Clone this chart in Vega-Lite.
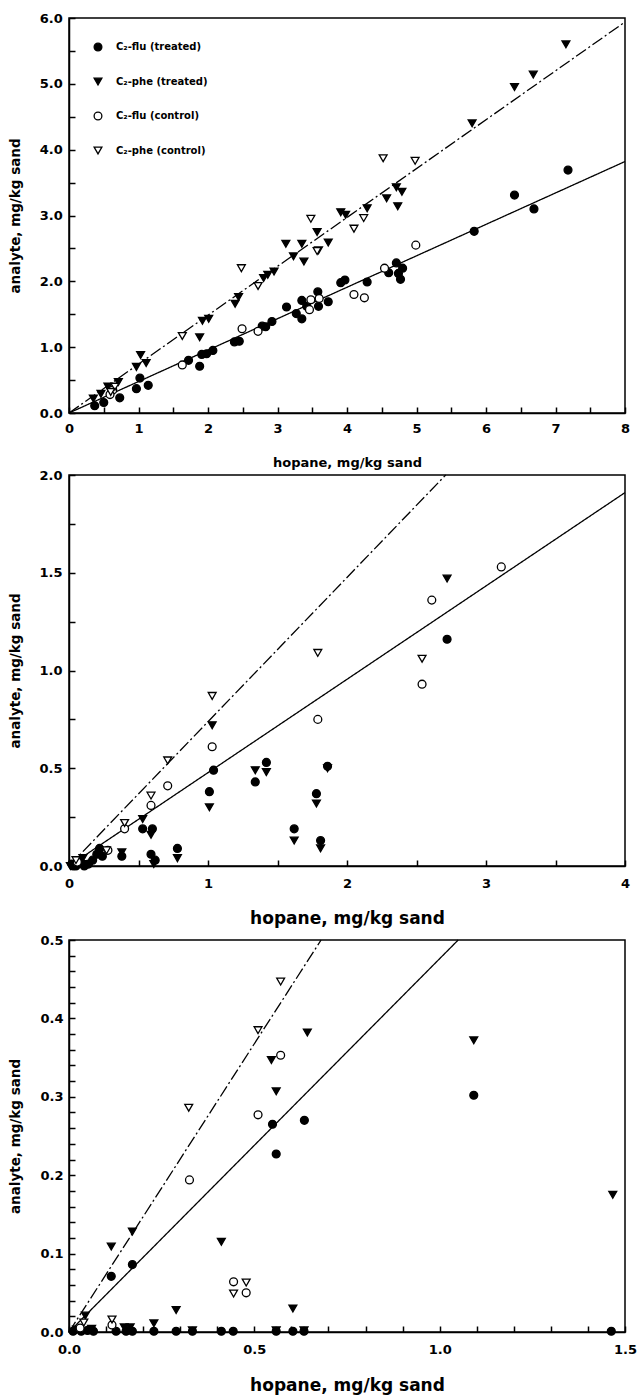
{
  "$schema": "https://vega.github.io/schema/vega-lite/v6.json",
  "background": "white",
  "padding": {"left": 7, "top": 11, "right": 8, "bottom": 0},
  "config": {
    "font": "DejaVu Sans",
    "view": {"stroke": "black", "strokeWidth": 1.5},
    "axis": {
      "grid": false, "domainColor": "black", "domainWidth": 1.5,
      "tickColor": "black", "tickWidth": 1.5, "tickSize": -6, "ticks": true,
      "labelColor": "black", "titleColor": "black",
      "labelFont": "DejaVu Sans", "labelFontWeight": "bold",
      "titleFont": "DejaVu Sans", "titleFontWeight": "bold",
      "labelFlush": false, "labelOverlap": false, "labelBound": false,
      "titleAlign": "center", "titleBaseline": "middle"
    }
  },
  "datasets": {
    "fitA": [
      {"fit": "flu", "hopane": 0, "analyte": 0}, {"fit": "flu", "hopane": 8, "analyte": 3.82},
      {"fit": "phe", "hopane": 0, "analyte": 0}, {"fit": "phe", "hopane": 8, "analyte": 5.94}
    ],
    "fitB": [
      {"fit": "flu", "hopane": 0, "analyte": 0}, {"fit": "flu", "hopane": 4, "analyte": 1.91},
      {"fit": "phe", "hopane": 0, "analyte": 0}, {"fit": "phe", "hopane": 2.71, "analyte": 2.0}
    ],
    "fitC": [
      {"fit": "flu", "hopane": 0, "analyte": 0}, {"fit": "flu", "hopane": 1.05, "analyte": 0.5},
      {"fit": "phe", "hopane": 0, "analyte": 0}, {"fit": "phe", "hopane": 0.68, "analyte": 0.5}
    ],
    "a": [
      {"series": "C₂-flu (treated)", "hopane": 7.18, "analyte": 3.69},
      {"series": "C₂-flu (treated)", "hopane": 6.41, "analyte": 3.31},
      {"series": "C₂-flu (treated)", "hopane": 6.69, "analyte": 3.10},
      {"series": "C₂-flu (treated)", "hopane": 5.83, "analyte": 2.76},
      {"series": "C₂-flu (treated)", "hopane": 4.74, "analyte": 2.12},
      {"series": "C₂-flu (treated)", "hopane": 4.60, "analyte": 2.13},
      {"series": "C₂-flu (treated)", "hopane": 4.77, "analyte": 2.03},
      {"series": "C₂-flu (treated)", "hopane": 4.71, "analyte": 2.28},
      {"series": "C₂-flu (treated)", "hopane": 4.80, "analyte": 2.20},
      {"series": "C₂-flu (treated)", "hopane": 4.29, "analyte": 1.99},
      {"series": "C₂-flu (treated)", "hopane": 3.91, "analyte": 1.98},
      {"series": "C₂-flu (treated)", "hopane": 3.97, "analyte": 2.02},
      {"series": "C₂-flu (treated)", "hopane": 3.73, "analyte": 1.69},
      {"series": "C₂-flu (treated)", "hopane": 3.58, "analyte": 1.84},
      {"series": "C₂-flu (treated)", "hopane": 3.59, "analyte": 1.62},
      {"series": "C₂-flu (treated)", "hopane": 3.35, "analyte": 1.71},
      {"series": "C₂-flu (treated)", "hopane": 3.35, "analyte": 1.43},
      {"series": "C₂-flu (treated)", "hopane": 3.27, "analyte": 1.51},
      {"series": "C₂-flu (treated)", "hopane": 3.13, "analyte": 1.61},
      {"series": "C₂-flu (treated)", "hopane": 3.42, "analyte": 1.62},
      {"series": "C₂-flu (treated)", "hopane": 2.92, "analyte": 1.39},
      {"series": "C₂-flu (treated)", "hopane": 2.83, "analyte": 1.31},
      {"series": "C₂-flu (treated)", "hopane": 2.78, "analyte": 1.32},
      {"series": "C₂-flu (treated)", "hopane": 2.45, "analyte": 1.09},
      {"series": "C₂-flu (treated)", "hopane": 2.38, "analyte": 1.08},
      {"series": "C₂-flu (treated)", "hopane": 2.07, "analyte": 0.95},
      {"series": "C₂-flu (treated)", "hopane": 1.98, "analyte": 0.90},
      {"series": "C₂-flu (treated)", "hopane": 1.91, "analyte": 0.89},
      {"series": "C₂-flu (treated)", "hopane": 1.88, "analyte": 0.71},
      {"series": "C₂-flu (treated)", "hopane": 1.72, "analyte": 0.80},
      {"series": "C₂-flu (treated)", "hopane": 1.02, "analyte": 0.53},
      {"series": "C₂-flu (treated)", "hopane": 1.14, "analyte": 0.42},
      {"series": "C₂-flu (treated)", "hopane": 0.97, "analyte": 0.37},
      {"series": "C₂-flu (treated)", "hopane": 0.73, "analyte": 0.23},
      {"series": "C₂-flu (treated)", "hopane": 0.50, "analyte": 0.16},
      {"series": "C₂-flu (treated)", "hopane": 0.37, "analyte": 0.11},
      {"series": "C₂-phe (treated)", "hopane": 7.15, "analyte": 5.60},
      {"series": "C₂-phe (treated)", "hopane": 6.68, "analyte": 5.14},
      {"series": "C₂-phe (treated)", "hopane": 6.41, "analyte": 4.95},
      {"series": "C₂-phe (treated)", "hopane": 5.80, "analyte": 4.40},
      {"series": "C₂-phe (treated)", "hopane": 4.57, "analyte": 3.26},
      {"series": "C₂-phe (treated)", "hopane": 4.71, "analyte": 3.43},
      {"series": "C₂-phe (treated)", "hopane": 4.79, "analyte": 3.36},
      {"series": "C₂-phe (treated)", "hopane": 4.73, "analyte": 3.14},
      {"series": "C₂-phe (treated)", "hopane": 3.91, "analyte": 3.05},
      {"series": "C₂-phe (treated)", "hopane": 3.98, "analyte": 3.01},
      {"series": "C₂-phe (treated)", "hopane": 4.29, "analyte": 3.11},
      {"series": "C₂-phe (treated)", "hopane": 3.12, "analyte": 2.57},
      {"series": "C₂-phe (treated)", "hopane": 3.35, "analyte": 2.57},
      {"series": "C₂-phe (treated)", "hopane": 3.38, "analyte": 2.30},
      {"series": "C₂-phe (treated)", "hopane": 3.23, "analyte": 2.38},
      {"series": "C₂-phe (treated)", "hopane": 3.57, "analyte": 2.75},
      {"series": "C₂-phe (treated)", "hopane": 3.73, "analyte": 2.59},
      {"series": "C₂-phe (treated)", "hopane": 3.59, "analyte": 2.47},
      {"series": "C₂-phe (treated)", "hopane": 2.95, "analyte": 2.15},
      {"series": "C₂-phe (treated)", "hopane": 2.86, "analyte": 2.10},
      {"series": "C₂-phe (treated)", "hopane": 2.80, "analyte": 2.05},
      {"series": "C₂-phe (treated)", "hopane": 2.44, "analyte": 1.76},
      {"series": "C₂-phe (treated)", "hopane": 2.39, "analyte": 1.66},
      {"series": "C₂-phe (treated)", "hopane": 1.92, "analyte": 1.40},
      {"series": "C₂-phe (treated)", "hopane": 2.01, "analyte": 1.43},
      {"series": "C₂-phe (treated)", "hopane": 1.88, "analyte": 1.15},
      {"series": "C₂-phe (treated)", "hopane": 1.03, "analyte": 0.88},
      {"series": "C₂-phe (treated)", "hopane": 0.97, "analyte": 0.70},
      {"series": "C₂-phe (treated)", "hopane": 1.11, "analyte": 0.76},
      {"series": "C₂-phe (treated)", "hopane": 0.71, "analyte": 0.47},
      {"series": "C₂-phe (treated)", "hopane": 0.56, "analyte": 0.40},
      {"series": "C₂-phe (treated)", "hopane": 0.46, "analyte": 0.29},
      {"series": "C₂-phe (treated)", "hopane": 0.35, "analyte": 0.22},
      {"series": "C₂-flu (control)", "hopane": 4.99, "analyte": 2.55},
      {"series": "C₂-flu (control)", "hopane": 4.54, "analyte": 2.20},
      {"series": "C₂-flu (control)", "hopane": 4.10, "analyte": 1.80},
      {"series": "C₂-flu (control)", "hopane": 4.25, "analyte": 1.75},
      {"series": "C₂-flu (control)", "hopane": 3.48, "analyte": 1.72},
      {"series": "C₂-flu (control)", "hopane": 3.46, "analyte": 1.57},
      {"series": "C₂-flu (control)", "hopane": 3.60, "analyte": 1.74},
      {"series": "C₂-flu (control)", "hopane": 2.49, "analyte": 1.28},
      {"series": "C₂-flu (control)", "hopane": 2.72, "analyte": 1.24},
      {"series": "C₂-flu (control)", "hopane": 1.63, "analyte": 0.73},
      {"series": "C₂-flu (control)", "hopane": 0.63, "analyte": 0.35},
      {"series": "C₂-flu (control)", "hopane": 0.59, "analyte": 0.28},
      {"series": "C₂-phe (control)", "hopane": 4.52, "analyte": 3.87},
      {"series": "C₂-phe (control)", "hopane": 4.98, "analyte": 3.83},
      {"series": "C₂-phe (control)", "hopane": 4.24, "analyte": 2.96},
      {"series": "C₂-phe (control)", "hopane": 3.48, "analyte": 2.95},
      {"series": "C₂-phe (control)", "hopane": 3.57, "analyte": 2.46},
      {"series": "C₂-phe (control)", "hopane": 4.10, "analyte": 2.80},
      {"series": "C₂-phe (control)", "hopane": 2.48, "analyte": 2.20},
      {"series": "C₂-phe (control)", "hopane": 2.72, "analyte": 1.93},
      {"series": "C₂-phe (control)", "hopane": 1.63, "analyte": 1.17},
      {"series": "C₂-phe (control)", "hopane": 0.66, "analyte": 0.40},
      {"series": "C₂-phe (control)", "hopane": 0.60, "analyte": 0.32}
    ],
    "b": [
      {"series": "C₂-flu (treated)", "hopane": 2.72, "analyte": 1.16},
      {"series": "C₂-flu (treated)", "hopane": 1.04, "analyte": 0.49},
      {"series": "C₂-flu (treated)", "hopane": 1.01, "analyte": 0.38},
      {"series": "C₂-flu (treated)", "hopane": 0.53, "analyte": 0.19},
      {"series": "C₂-flu (treated)", "hopane": 0.60, "analyte": 0.19},
      {"series": "C₂-flu (treated)", "hopane": 0.38, "analyte": 0.05},
      {"series": "C₂-flu (treated)", "hopane": 0.22, "analyte": 0.09},
      {"series": "C₂-flu (treated)", "hopane": 0.24, "analyte": 0.05},
      {"series": "C₂-flu (treated)", "hopane": 0.59, "analyte": 0.06},
      {"series": "C₂-flu (treated)", "hopane": 0.62, "analyte": 0.03},
      {"series": "C₂-flu (treated)", "hopane": 0.78, "analyte": 0.09},
      {"series": "C₂-flu (treated)", "hopane": 1.34, "analyte": 0.43},
      {"series": "C₂-flu (treated)", "hopane": 1.42, "analyte": 0.53},
      {"series": "C₂-flu (treated)", "hopane": 1.62, "analyte": 0.19},
      {"series": "C₂-flu (treated)", "hopane": 1.78, "analyte": 0.37},
      {"series": "C₂-flu (treated)", "hopane": 1.81, "analyte": 0.13},
      {"series": "C₂-flu (treated)", "hopane": 1.86, "analyte": 0.51},
      {"series": "C₂-flu (treated)", "hopane": 0.02, "analyte": 0.01},
      {"series": "C₂-flu (treated)", "hopane": 0.05, "analyte": 0.0},
      {"series": "C₂-flu (treated)", "hopane": 0.08, "analyte": 0.02},
      {"series": "C₂-flu (treated)", "hopane": 0.11, "analyte": 0.0},
      {"series": "C₂-flu (treated)", "hopane": 0.14, "analyte": 0.01},
      {"series": "C₂-flu (treated)", "hopane": 0.03, "analyte": 0.0},
      {"series": "C₂-flu (treated)", "hopane": 0.17, "analyte": 0.03},
      {"series": "C₂-flu (treated)", "hopane": 0.20, "analyte": 0.06},
      {"series": "C₂-phe (treated)", "hopane": 2.72, "analyte": 1.47},
      {"series": "C₂-phe (treated)", "hopane": 1.03, "analyte": 0.72},
      {"series": "C₂-phe (treated)", "hopane": 1.01, "analyte": 0.30},
      {"series": "C₂-phe (treated)", "hopane": 0.53, "analyte": 0.24},
      {"series": "C₂-phe (treated)", "hopane": 0.59, "analyte": 0.16},
      {"series": "C₂-phe (treated)", "hopane": 0.38, "analyte": 0.07},
      {"series": "C₂-phe (treated)", "hopane": 0.22, "analyte": 0.07},
      {"series": "C₂-phe (treated)", "hopane": 0.61, "analyte": 0.01},
      {"series": "C₂-phe (treated)", "hopane": 0.78, "analyte": 0.04},
      {"series": "C₂-phe (treated)", "hopane": 1.34, "analyte": 0.49},
      {"series": "C₂-phe (treated)", "hopane": 1.42, "analyte": 0.48},
      {"series": "C₂-phe (treated)", "hopane": 1.62, "analyte": 0.13},
      {"series": "C₂-phe (treated)", "hopane": 1.78, "analyte": 0.32},
      {"series": "C₂-phe (treated)", "hopane": 1.81, "analyte": 0.09},
      {"series": "C₂-phe (treated)", "hopane": 1.86, "analyte": 0.50},
      {"series": "C₂-phe (treated)", "hopane": 0.04, "analyte": 0.01},
      {"series": "C₂-phe (treated)", "hopane": 0.07, "analyte": 0.03},
      {"series": "C₂-phe (treated)", "hopane": 0.10, "analyte": 0.04},
      {"series": "C₂-phe (treated)", "hopane": 0.12, "analyte": 0.01},
      {"series": "C₂-phe (treated)", "hopane": 0.01, "analyte": 0.0},
      {"series": "C₂-flu (control)", "hopane": 2.61, "analyte": 1.36},
      {"series": "C₂-flu (control)", "hopane": 3.11, "analyte": 1.53},
      {"series": "C₂-flu (control)", "hopane": 2.54, "analyte": 0.93},
      {"series": "C₂-flu (control)", "hopane": 1.79, "analyte": 0.75},
      {"series": "C₂-flu (control)", "hopane": 1.03, "analyte": 0.61},
      {"series": "C₂-flu (control)", "hopane": 0.71, "analyte": 0.41},
      {"series": "C₂-flu (control)", "hopane": 0.59, "analyte": 0.31},
      {"series": "C₂-flu (control)", "hopane": 0.40, "analyte": 0.19},
      {"series": "C₂-flu (control)", "hopane": 0.28, "analyte": 0.08},
      {"series": "C₂-flu (control)", "hopane": 0.06, "analyte": 0.02},
      {"series": "C₂-phe (control)", "hopane": 2.54, "analyte": 1.06},
      {"series": "C₂-phe (control)", "hopane": 1.79, "analyte": 1.09},
      {"series": "C₂-phe (control)", "hopane": 1.03, "analyte": 0.87},
      {"series": "C₂-phe (control)", "hopane": 0.71, "analyte": 0.54},
      {"series": "C₂-phe (control)", "hopane": 0.59, "analyte": 0.36},
      {"series": "C₂-phe (control)", "hopane": 0.40, "analyte": 0.22},
      {"series": "C₂-phe (control)", "hopane": 0.27, "analyte": 0.08},
      {"series": "C₂-phe (control)", "hopane": 0.05, "analyte": 0.03}
    ],
    "c": [
      {"series": "C₂-flu (treated)", "hopane": 1.092, "analyte": 0.302},
      {"series": "C₂-flu (treated)", "hopane": 0.549, "analyte": 0.265},
      {"series": "C₂-flu (treated)", "hopane": 0.635, "analyte": 0.270},
      {"series": "C₂-flu (treated)", "hopane": 0.559, "analyte": 0.227},
      {"series": "C₂-flu (treated)", "hopane": 0.171, "analyte": 0.086},
      {"series": "C₂-flu (treated)", "hopane": 0.114, "analyte": 0.071},
      {"series": "C₂-flu (treated)", "hopane": 1.463, "analyte": 0.001},
      {"series": "C₂-flu (treated)", "hopane": 0.011, "analyte": 0.001},
      {"series": "C₂-flu (treated)", "hopane": 0.033, "analyte": 0.001},
      {"series": "C₂-flu (treated)", "hopane": 0.05, "analyte": 0.002},
      {"series": "C₂-flu (treated)", "hopane": 0.066, "analyte": 0.001},
      {"series": "C₂-flu (treated)", "hopane": 0.127, "analyte": 0.001},
      {"series": "C₂-flu (treated)", "hopane": 0.154, "analyte": 0.001},
      {"series": "C₂-flu (treated)", "hopane": 0.171, "analyte": 0.001},
      {"series": "C₂-flu (treated)", "hopane": 0.229, "analyte": 0.001},
      {"series": "C₂-flu (treated)", "hopane": 0.289, "analyte": 0.001},
      {"series": "C₂-flu (treated)", "hopane": 0.333, "analyte": 0.001},
      {"series": "C₂-flu (treated)", "hopane": 0.411, "analyte": 0.001},
      {"series": "C₂-flu (treated)", "hopane": 0.443, "analyte": 0.001},
      {"series": "C₂-flu (treated)", "hopane": 0.559, "analyte": 0.001},
      {"series": "C₂-flu (treated)", "hopane": 0.604, "analyte": 0.001},
      {"series": "C₂-flu (treated)", "hopane": 0.634, "analyte": 0.001},
      {"series": "C₂-phe (treated)", "hopane": 0.643, "analyte": 0.382},
      {"series": "C₂-phe (treated)", "hopane": 1.092, "analyte": 0.372},
      {"series": "C₂-phe (treated)", "hopane": 0.546, "analyte": 0.347},
      {"series": "C₂-phe (treated)", "hopane": 0.559, "analyte": 0.307},
      {"series": "C₂-phe (treated)", "hopane": 1.467, "analyte": 0.175},
      {"series": "C₂-phe (treated)", "hopane": 0.171, "analyte": 0.128},
      {"series": "C₂-phe (treated)", "hopane": 0.114, "analyte": 0.109},
      {"series": "C₂-phe (treated)", "hopane": 0.411, "analyte": 0.115},
      {"series": "C₂-phe (treated)", "hopane": 0.289, "analyte": 0.028},
      {"series": "C₂-phe (treated)", "hopane": 0.604, "analyte": 0.030},
      {"series": "C₂-phe (treated)", "hopane": 0.229, "analyte": 0.011},
      {"series": "C₂-phe (treated)", "hopane": 0.044, "analyte": 0.021},
      {"series": "C₂-phe (treated)", "hopane": 0.333, "analyte": 0.002},
      {"series": "C₂-phe (treated)", "hopane": 0.634, "analyte": 0.002},
      {"series": "C₂-phe (treated)", "hopane": 0.559, "analyte": 0.002},
      {"series": "C₂-phe (treated)", "hopane": 0.165, "analyte": 0.006},
      {"series": "C₂-phe (treated)", "hopane": 0.149, "analyte": 0.006},
      {"series": "C₂-phe (treated)", "hopane": 0.061, "analyte": 0.004},
      {"series": "C₂-phe (treated)", "hopane": 0.02, "analyte": 0.003},
      {"series": "C₂-flu (control)", "hopane": 0.571, "analyte": 0.353},
      {"series": "C₂-flu (control)", "hopane": 0.51, "analyte": 0.277},
      {"series": "C₂-flu (control)", "hopane": 0.325, "analyte": 0.194},
      {"series": "C₂-flu (control)", "hopane": 0.444, "analyte": 0.064},
      {"series": "C₂-flu (control)", "hopane": 0.478, "analyte": 0.050},
      {"series": "C₂-flu (control)", "hopane": 0.116, "analyte": 0.009},
      {"series": "C₂-flu (control)", "hopane": 0.03, "analyte": 0.005},
      {"series": "C₂-phe (control)", "hopane": 0.571, "analyte": 0.447},
      {"series": "C₂-phe (control)", "hopane": 0.51, "analyte": 0.385},
      {"series": "C₂-phe (control)", "hopane": 0.323, "analyte": 0.286},
      {"series": "C₂-phe (control)", "hopane": 0.444, "analyte": 0.049},
      {"series": "C₂-phe (control)", "hopane": 0.478, "analyte": 0.063},
      {"series": "C₂-phe (control)", "hopane": 0.116, "analyte": 0.016},
      {"series": "C₂-phe (control)", "hopane": 0.04, "analyte": 0.012}
    ]
  },
  "resolve": {"scale": {"x": "independent", "y": "independent", "shape": "independent", "fill": "independent", "strokeDash": "independent"}},
  "spacing": 5,
  "vconcat": [
    {
      "resolve": {"scale": {"x": "independent", "y": "independent", "shape": "independent", "fill": "independent", "strokeDash": "independent"}},
      "spacing": -2,
      "vconcat": [
        {
          "width": 556, "height": 395,
          "encoding": {
            "x": {"field": "hopane", "type": "quantitative", "scale": {"domain": [0, 8], "nice": false, "zero": false},
              "axis": {"values": [0, 0.5, 1, 1.5, 2, 2.5, 3, 3.5, 4, 4.5, 5, 5.5, 6, 6.5, 7, 7.5, 8],
                "labelExpr": "datum.value % 1 == 0 ? format(datum.value, 'd') : ''",
                "tickSize": -6, "tickWidth": 1.5,
                "labelFontSize": 13, "labelPadding": 15.5,
                "title": "hopane, mg/kg sand", "titleFontSize": 13, "titleX": 278, "titleY": 49}},
            "y": {"field": "analyte", "type": "quantitative", "scale": {"domain": [0, 6], "nice": false, "zero": false},
              "axis": {"values": [0, 0.5, 1, 1.5, 2, 2.5, 3, 3.5, 4, 4.5, 5, 5.5, 6],
                "labelExpr": "datum.value % 1 == 0 ? format(datum.value, '.1f') : ''",
                "tickSize": -6, "tickWidth": 1.5,
                "labelFontSize": 13, "labelPadding": 12.7,
                "title": "analyte, mg/kg sand", "titleFontSize": 13.5, "titleX": -54, "titleY": 197.5, "titleAngle": 270}}
          },
          "layer": [
            {"data": {"name": "fitA"}, "mark": {"type": "line", "color": "black", "strokeWidth": 1.3},
              "encoding": {"strokeDash": {"field": "fit", "type": "nominal", "scale": {"domain": ["flu", "phe"], "range": [[1, 0], [12, 3, 2, 3]]}, "legend": null}}},
            {"data": {"name": "a"}, "mark": {"type": "point", "filled": true, "size": 62, "stroke": "black", "strokeWidth": 1.3, "opacity": 1},
              "encoding": {
                "shape": {"field": "series", "type": "nominal",
                  "scale": {"domain": ["C₂-flu (treated)", "C₂-phe (treated)", "C₂-flu (control)", "C₂-phe (control)"], "range": ["circle", "triangle-down", "circle", "triangle-down"]},
                  "legend": {"orient": "none", "legendX": 24, "legendY": 24, "title": null, "padding": 0, "offset": 0, "rowPadding": 21.5, "symbolSize": 60, "symbolStrokeColor": "black", "symbolStrokeWidth": 1.3, "symbolOpacity": 1, "labelFont": "DejaVu Sans", "labelFontSize": 10, "labelFontWeight": "bold", "labelOffset": 13, "labelColor": "black",
                    "encode": {"symbols": {"update": {"stroke": {"value": "black"}, "strokeWidth": {"value": 1.3}}}}}},
                "fill": {"field": "series", "type": "nominal",
                  "scale": {"domain": ["C₂-flu (treated)", "C₂-phe (treated)", "C₂-flu (control)", "C₂-phe (control)"], "range": ["black", "black", "white", "white"]},
                  "legend": {"orient": "none", "legendX": 24, "legendY": 24, "title": null, "padding": 0, "offset": 0, "rowPadding": 21.5, "symbolSize": 60, "symbolStrokeColor": "black", "symbolStrokeWidth": 1.3, "symbolOpacity": 1, "labelFont": "DejaVu Sans", "labelFontSize": 10, "labelFontWeight": "bold", "labelOffset": 13, "labelColor": "black",
                    "encode": {"symbols": {"update": {"stroke": {"value": "black"}, "strokeWidth": {"value": 1.3}}}}}}
              }},
            {"data": {"values": [{"label": "(a)\u00a0 Day 0"}]},
              "mark": {"type": "text", "font": "DejaVu Sans", "fontSize": 14, "fontWeight": "bold", "align": "center", "baseline": "middle", "color": "black"},
              "encoding": {"x": {"datum": 3.92}, "y": {"datum": 5.56}, "text": {"field": "label"}}}
          ]
        },
        {
          "width": 556, "height": 391,
          "encoding": {
            "x": {"field": "hopane", "type": "quantitative", "scale": {"domain": [0, 4], "nice": false, "zero": false},
              "axis": {"values": [0, 0.5, 1, 1.5, 2, 2.5, 3, 3.5, 4],
                "labelExpr": "datum.value % 1 == 0 ? format(datum.value, 'd') : ''",
                "tickSize": -6, "tickWidth": 1.5,
                "labelFontSize": 13, "labelPadding": 17,
                "title": "hopane, mg/kg sand", "titleFontSize": 17, "titleX": 278, "titleY": 52.5}},
            "y": {"field": "analyte", "type": "quantitative", "scale": {"domain": [0, 2], "nice": false, "zero": false},
              "axis": {"values": [0, 0.25, 0.5, 0.75, 1, 1.25, 1.5, 1.75, 2],
                "labelExpr": "(datum.value * 2) % 1 == 0 ? format(datum.value, '.1f') : ''",
                "tickSize": -6, "tickWidth": 1.5,
                "labelFontSize": 13, "labelPadding": 13,
                "title": "analyte, mg/kg sand", "titleFontSize": 13.5, "titleX": -54, "titleY": 195.5, "titleAngle": 270}}
          },
          "layer": [
            {"data": {"name": "fitB"}, "mark": {"type": "line", "color": "black", "strokeWidth": 1.3},
              "encoding": {"strokeDash": {"field": "fit", "type": "nominal", "scale": {"domain": ["flu", "phe"], "range": [[1, 0], [12, 3, 2, 3]]}, "legend": null}}},
            {"data": {"name": "b"}, "mark": {"type": "point", "filled": true, "size": 62, "stroke": "black", "strokeWidth": 1.3, "opacity": 1},
              "encoding": {
                "shape": {"field": "series", "type": "nominal",
                  "scale": {"domain": ["C₂-flu (treated)", "C₂-phe (treated)", "C₂-flu (control)", "C₂-phe (control)"], "range": ["circle", "triangle-down", "circle", "triangle-down"]}, "legend": null},
                "fill": {"field": "series", "type": "nominal",
                  "scale": {"domain": ["C₂-flu (treated)", "C₂-phe (treated)", "C₂-flu (control)", "C₂-phe (control)"], "range": ["black", "black", "white", "white"]}, "legend": null}
              }},
            {"data": {"values": [{"label": "(b)\u00a0 Day 56"}]},
              "mark": {"type": "text", "font": "DejaVu Sans", "fontSize": 14, "fontWeight": "bold", "align": "center", "baseline": "middle", "color": "black"},
              "encoding": {"x": {"datum": 1.856}, "y": {"datum": 1.908}, "text": {"field": "label"}}}
          ]
        }
      ]
    },
    {
      "width": 556, "height": 392,
      "encoding": {
        "x": {"field": "hopane", "type": "quantitative", "scale": {"domain": [0, 1.5], "nice": false, "zero": false},
          "axis": {"values": [0, 0.1, 0.2, 0.3, 0.4, 0.5, 0.6, 0.7, 0.8, 0.9, 1.0, 1.1, 1.2, 1.3, 1.4, 1.5],
            "labelExpr": "abs(datum.value * 2 - round(datum.value * 2)) < 0.001 ? format(datum.value, '.1f') : ''",
            "tickSize": -6, "tickWidth": 1.5,
            "labelFontSize": 13, "labelPadding": 17,
            "title": "hopane, mg/kg sand", "titleFontSize": 17, "titleX": 278, "titleY": 53.4}},
        "y": {"field": "analyte", "type": "quantitative", "scale": {"domain": [0, 0.5], "nice": false, "zero": false},
          "axis": {"values": [0, 0.02, 0.04, 0.06, 0.08, 0.1, 0.12, 0.14, 0.16, 0.18, 0.2, 0.22, 0.24, 0.26, 0.28, 0.3, 0.32, 0.34, 0.36, 0.38, 0.4, 0.42, 0.44, 0.46, 0.48, 0.5],
            "labelExpr": "abs(datum.value * 10 - round(datum.value * 10)) < 0.001 ? format(datum.value, '.1f') : ''",
            "tickSize": -6, "tickWidth": 1.5,
            "labelFontSize": 13, "labelPadding": 12,
            "title": "analyte, mg/kg sand", "titleFontSize": 13.5, "titleX": -54, "titleY": 196, "titleAngle": 270}}
      },
      "layer": [
        {"data": {"name": "fitC"}, "mark": {"type": "line", "color": "black", "strokeWidth": 1.3},
          "encoding": {"strokeDash": {"field": "fit", "type": "nominal", "scale": {"domain": ["flu", "phe"], "range": [[1, 0], [12, 3, 2, 3]]}, "legend": null}}},
        {"data": {"name": "c"}, "mark": {"type": "point", "filled": true, "size": 62, "stroke": "black", "strokeWidth": 1.3, "opacity": 1},
          "encoding": {
            "shape": {"field": "series", "type": "nominal",
              "scale": {"domain": ["C₂-flu (treated)", "C₂-phe (treated)", "C₂-flu (control)", "C₂-phe (control)"], "range": ["circle", "triangle-down", "circle", "triangle-down"]}, "legend": null},
            "fill": {"field": "series", "type": "nominal",
              "scale": {"domain": ["C₂-flu (treated)", "C₂-phe (treated)", "C₂-flu (control)", "C₂-phe (control)"], "range": ["black", "black", "white", "white"]}, "legend": null}
          }},
        {"data": {"values": [{"label": "(c)\u00a0 Day 98"}]},
          "mark": {"type": "text", "font": "DejaVu Sans", "fontSize": 14, "fontWeight": "bold", "align": "center", "baseline": "middle", "color": "black"},
          "encoding": {"x": {"datum": 0.795}, "y": {"datum": 0.473}, "text": {"field": "label"}}}
      ]
    }
  ]
}
